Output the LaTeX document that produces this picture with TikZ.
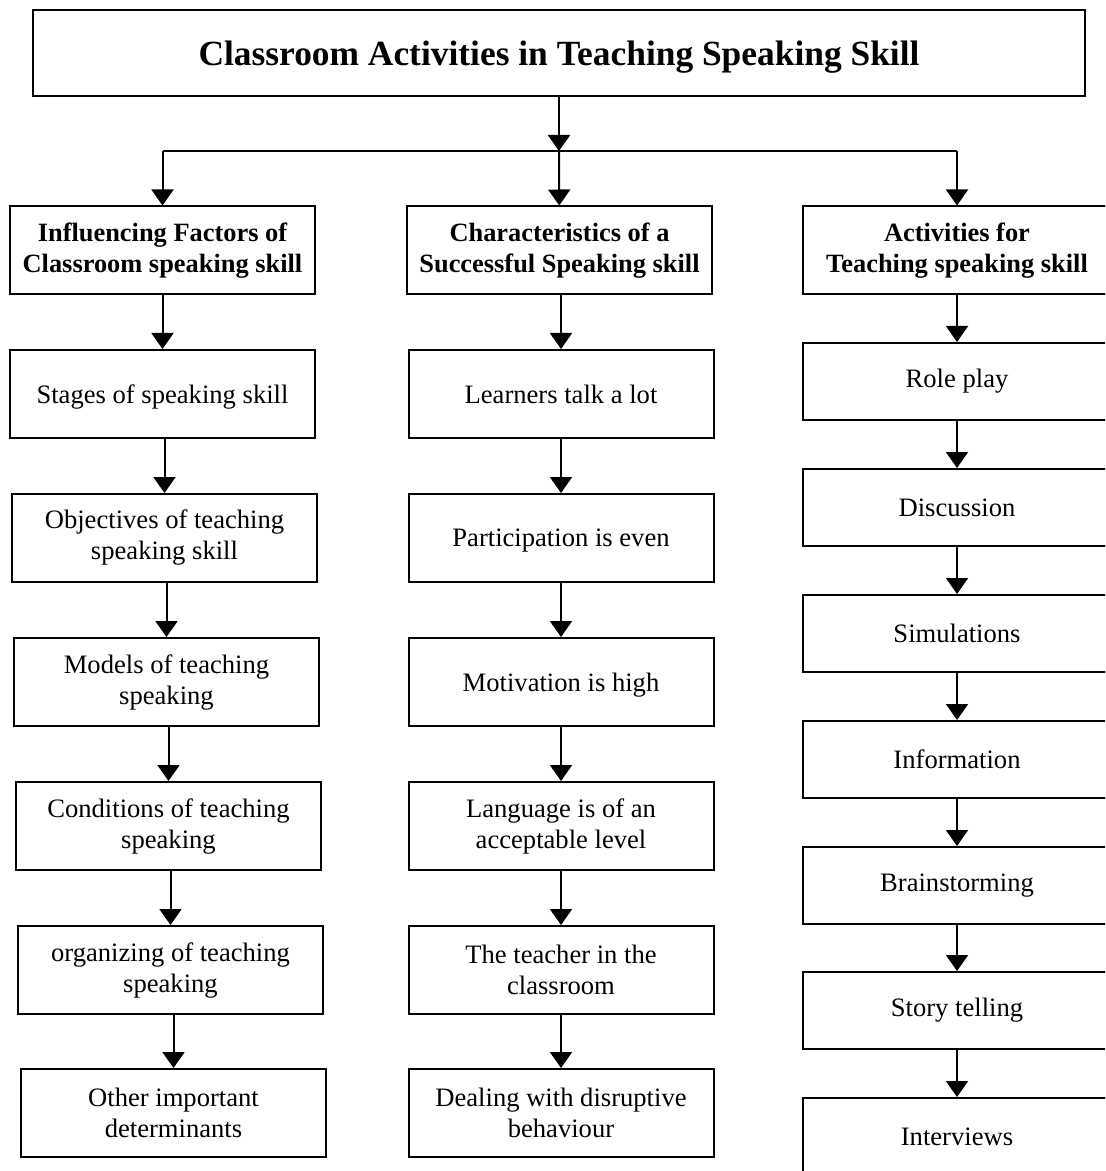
\documentclass[tikz,border=0pt]{standalone}
\usepackage{fontspec}
\setmainfont{Liberation Serif}
\usetikzlibrary{arrows.meta}
\tikzset{
  box/.style={draw, line width=1pt, minimum width=152.5pt, minimum height=44pt,
    align=center, inner sep=2pt, font=\fontsize{13.3}{15.5}\selectfont},
  onebox/.style={box, text depth=0pt},
  headbox/.style={box, font=\bfseries\fontsize{13.2}{15.5}\selectfont},
  actbox/.style={box, minimum width=154pt, minimum height=38.5pt},
  arr/.style={-{Triangle[length=8pt,width=11pt]}, line width=1pt}
}

\begin{document}
\begin{tikzpicture}[x=0.5pt,y=-0.5pt]
    \useasboundingbox (0,0) rectangle (1105,1171);
    \clip (0,0) rectangle (1105,1171);

    \coordinate (Top) at (559, 53);
    \coordinate (J) at (559, 151);

    \coordinate (Infc) at (162.5, 250.5);
    \coordinate (Charc) at (559.5, 250.5);
    \coordinate (Actc) at (957, 250.5);

    \coordinate (Stgc) at (162.5, 394);
    \coordinate (Objc) at (164.5, 538);
    \coordinate (Modc) at (166.5, 682);
    \coordinate (Condc) at (168.5, 826);
    \coordinate (Orgc) at (170.5, 970);
    \coordinate (Othc) at (173.5, 1113);

    \coordinate (Talkc) at (561, 394);
    \coordinate (Partc) at (561, 538);
    \coordinate (Motc) at (561, 682);
    \coordinate (Langc) at (561, 826);
    \coordinate (Teachc) at (561, 970);
    \coordinate (Disc) at (561, 1113);

    \coordinate (Rolec) at (957, 381.5);
    \coordinate (Discuc) at (957, 507.5);
    \coordinate (Simc) at (957, 633.5);
    \coordinate (Infoc) at (957, 759.5);
    \coordinate (Brainc) at (957, 885.5);
    \coordinate (Storyc) at (957, 1010.5);
    \coordinate (Intc) at (957, 1136.5);

    \node[draw, line width=1pt, minimum width=526pt, minimum height=43pt, text depth=0pt,
      font=\bfseries\fontsize{17.7}{22}\selectfont] (Title) at (Top)
      {Classroom Activities in Teaching Speaking Skill};

    \node[headbox] (Inf) at (Infc) {Influencing Factors of\\Classroom speaking skill};
    \node[headbox] (Char) at (Charc) {Characteristics of a\\Successful Speaking skill};
    \node[headbox, minimum width=154.5pt] (Act) at (Actc) {Activities for\\Teaching speaking skill};

    \node[onebox] (Stg) at (Stgc) {Stages of speaking skill};
    \node[box] (Obj) at (Objc) {Objectives of teaching\\speaking skill};
    \node[box] (Mod) at (Modc) {Models of teaching\\speaking};
    \node[box] (Cond) at (Condc) {Conditions of teaching\\speaking};
    \node[box] (Org) at (Orgc) {organizing of teaching\\speaking};
    \node[box] (Oth) at (Othc) {Other important\\determinants};

    \node[onebox] (Talk) at (Talkc) {Learners talk a lot};
    \node[onebox] (Part) at (Partc) {Participation is even};
    \node[onebox] (Mot) at (Motc) {Motivation is high};
    \node[box] (Lang) at (Langc) {Language is of an\\acceptable level};
    \node[box] (Teach) at (Teachc) {The teacher in the\\classroom};
    \node[box] (Dis) at (Disc) {Dealing with disruptive\\behaviour};

    \node[actbox] (Role) at (Rolec) {Role play};
    \node[actbox] (Discu) at (Discuc) {Discussion};
    \node[actbox] (Sim) at (Simc) {Simulations};
    \node[actbox] (Info) at (Infoc) {Information};
    \node[actbox] (Brain) at (Brainc) {Brainstorming};
    \node[actbox] (Story) at (Storyc) {Story telling};
    \node[actbox] (Int) at (Intc) {Interviews};

    % title to the three branches
    \draw[arr] (Title) -- (J);
    \draw[line width=1pt] (Inf.north |- J) -- (Act.north |- J);
    \draw[arr] (Inf.north |- J) -- (Inf);
    \draw[arr] (J) -- (Char);
    \draw[arr] (Act.north |- J) -- (Act);

    % left column
    \draw[arr] (Inf) -- (Stg);
    \draw[arr] (Obj.north |- Stg.south) -- (Obj);
    \draw[arr] (Mod.north |- Obj.south) -- (Mod);
    \draw[arr] (Cond.north |- Mod.south) -- (Cond);
    \draw[arr] (Org.north |- Cond.south) -- (Org);
    \draw[arr] (Oth.north |- Org.south) -- (Oth);

    % middle column
    \draw[arr] (Talk.north |- Char.south) -- (Talk);
    \draw[arr] (Talk) -- (Part);
    \draw[arr] (Part) -- (Mot);
    \draw[arr] (Mot) -- (Lang);
    \draw[arr] (Lang) -- (Teach);
    \draw[arr] (Teach) -- (Dis);

    % right column
    \draw[arr] (Act) -- (Role);
    \draw[arr] (Role) -- (Discu);
    \draw[arr] (Discu) -- (Sim);
    \draw[arr] (Sim) -- (Info);
    \draw[arr] (Info) -- (Brain);
    \draw[arr] (Brain) -- (Story);
    \draw[arr] (Story) -- (Int);
\end{tikzpicture}
\end{document}
